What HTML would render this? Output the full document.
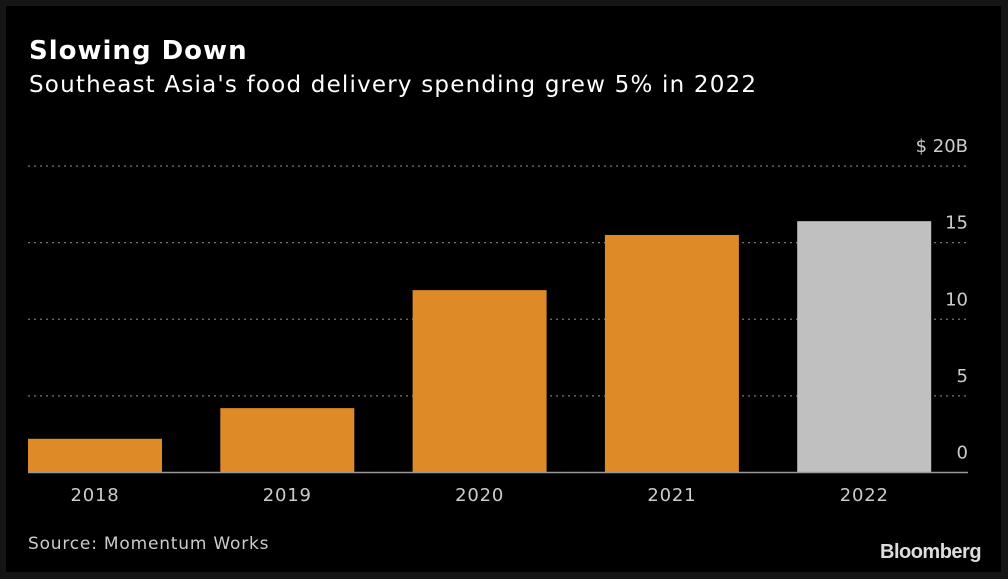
<!DOCTYPE html>
<html><head><meta charset="utf-8"><style>
body{margin:0;background:#151515;width:1008px;height:579px;overflow:hidden;font-family:"DejaVu Sans",sans-serif}
#frame{position:absolute;left:6px;top:6px;width:995px;height:566px;background:#000}
.t{position:absolute;white-space:nowrap}
</style></head><body>
<div id="frame"></div>
<div class="t" style="left:29px;top:36px;font-size:26px;font-weight:bold;color:#fff;letter-spacing:1px">Slowing Down</div>
<div class="t" style="left:29px;top:72px;font-size:23px;color:#fff;letter-spacing:1.2px">Southeast Asia's food delivery spending grew 5% in 2022</div>
<svg id="chart" width="1008" height="579" style="position:absolute;left:0;top:0"></svg>
<div class="t" style="left:28px;top:534px;font-size:17px;color:#ccc;letter-spacing:0.8px">Source: Momentum Works</div>
<div class="t" style="left:880px;top:541px;font-family:'Liberation Sans',sans-serif;font-size:20px;font-weight:bold;color:#ddd;letter-spacing:-0.5px">Bloomberg</div>
<script>
const categories=["2018","2019","2020","2021","2022"];
const values=[2.2,4.2,11.9,15.5,16.4];
const colors=["#dd8a27","#dd8a27","#dd8a27","#dd8a27","#c0c0c0"];
const ticks=[0,5,10,15,20];
const tickLabels=["0","5","10","15","$ 20B"];
const svg=document.getElementById('chart');
const NS="http://www.w3.org/2000/svg";
const y0=472.5,pxPer=(472.5-166)/20;
const y=v=>y0-v*pxPer;
const x=i=>28+i*192.3;
const bw=134;
function mk(t,a){const e=document.createElementNS(NS,t);for(const k in a)e.setAttribute(k,a[k]);svg.appendChild(e);return e;}
ticks.forEach((t,i)=>{
  if(t>0){const l=mk('line',{x1:28,x2:968,y1:y(t),y2:y(t),stroke:'#777','stroke-width':1.2,'stroke-dasharray':'2,4'});
  
  }
  const tx=mk('text',{x:968,y:y(t)-14,'text-anchor':'end',fill:'#ccc','font-size':18,'font-family':'DejaVu Sans, sans-serif'});
  tx.textContent=tickLabels[i];
  
  
});
categories.forEach((c,i)=>{
  const r=mk('rect',{x:x(i),y:y(values[i]),width:bw,height:y0-y(values[i]),fill:colors[i]});
  
  
  const tx=mk('text',{x:x(i)+bw/2,y:501,'text-anchor':'middle',fill:'#ccc','font-size':18,'letter-spacing':'0.8','font-family':'DejaVu Sans, sans-serif'});
  tx.textContent=c;
  
  
});
const base=mk('line',{x1:28,x2:968,y1:y0,y2:y0,stroke:'#999','stroke-width':1.5});


</script>
</body></html>
